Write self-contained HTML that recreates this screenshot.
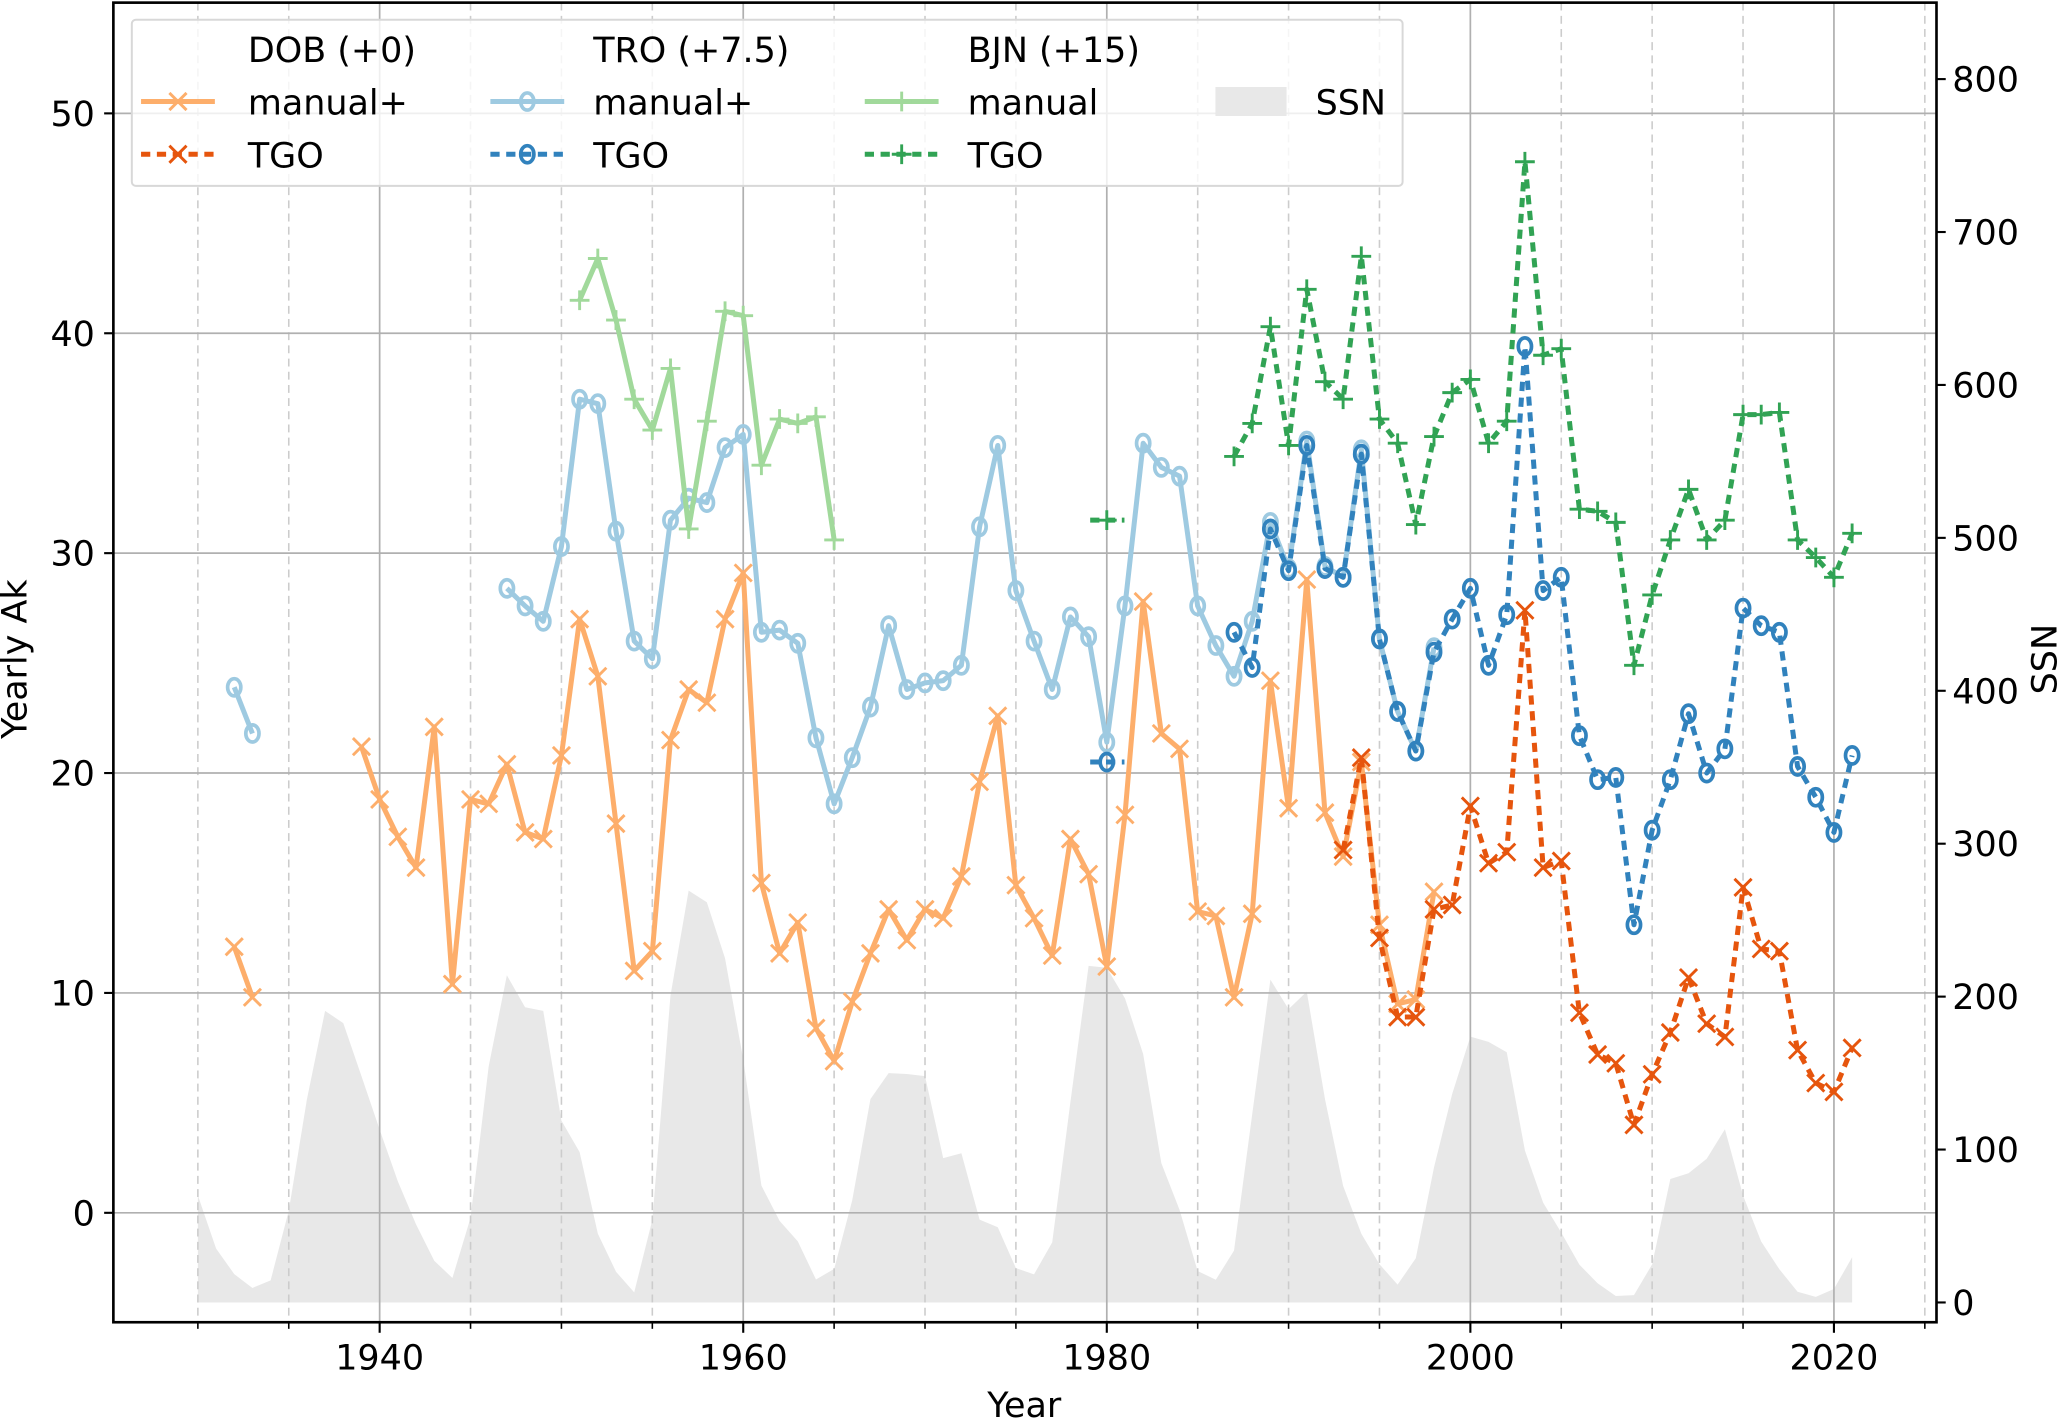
<!DOCTYPE html>
<html><head><meta charset="utf-8"><style>
html,body{margin:0;padding:0;background:#fff;}
svg{display:block;font-family:"DejaVu Sans","Liberation Sans",sans-serif;}
</style></head><body>
<svg id="s" width="2067" height="1419" viewBox="0 0 1568 1076.4" preserveAspectRatio="none" xmlns="http://www.w3.org/2000/svg"></svg>
<script>
var S=document.getElementById('s');
function X(y){return 288+(y-1940)*13.79;}
function Y(a){return 920-a*16.68;}
function YS(s){return 988-s*1.16;}
var h='';
var ssn=[70,35.3,18.5,9.5,14.5,60.2,132.8,190.7,182.7,148,113,79.2,51,27.2,16,55.3,154.3,214,193,190.7,118.9,98.3,45,20.1,6.6,54.2,200.7,269.3,261.7,225.1,159,76.4,53.4,39.9,15,22,66.8,132.9,150,149.4,148,94.4,97.6,54.1,49.2,22.5,18.4,39.3,131,220.1,218.9,198.9,162.4,91,60.5,20.6,14.8,33.9,123,211.1,191.8,203.3,133,76.1,44.9,25.1,11.6,28.9,88.3,136.3,173.9,170.4,163.6,99.3,65.3,45.8,24.7,12.6,4.2,4.8,24.9,80.8,84.5,94,113.3,69.8,39.8,21.7,7,3.6,8.8,29.6];
var p='M'+X(1930)+','+YS(0);
for(var i=0;i<ssn.length;i++)p+=' L'+X(1930+i).toFixed(1)+','+YS(ssn[i]).toFixed(1);
p+=' L'+X(2021)+','+YS(0)+'Z';
h+='<path d="'+p+'" fill="#e8e8e8"/>';
for(var yr=1930;yr<=2025;yr+=5){var x=X(yr);
 if(yr%20==0)h+='<line x1="'+x+'" y1="2" x2="'+x+'" y2="1003" stroke="#b0b0b0" stroke-width="1.3"/>';
 else h+='<line x1="'+x+'" y1="2" x2="'+x+'" y2="1003" stroke="#cccccc" stroke-width="1.2" stroke-dasharray="6,4"/>';}
for(var a=0;a<=50;a+=10)h+='<line x1="86" y1="'+Y(a)+'" x2="1469" y2="'+Y(a)+'" stroke="#b0b0b0" stroke-width="1.3"/>';
function marker(x,y,c,m){
 if(m=='x')return '<path d="M'+(x-6.5)+','+(y-6.5)+'L'+(x+6.5)+','+(y+6.5)+'M'+(x-6.5)+','+(y+6.5)+'L'+(x+6.5)+','+(y-6.5)+'" stroke="'+c+'" stroke-width="2.2"/>';
 if(m=='o')return '<ellipse cx="'+x+'" cy="'+y+'" rx="5" ry="6.5" fill="none" stroke="'+c+'" stroke-width="2.8"/>';
 return '<path d="M'+(x-7.5)+','+y+'L'+(x+7.5)+','+y+'M'+x+','+(y-7.5)+'L'+x+','+(y+7.5)+'" stroke="'+c+'" stroke-width="2.2"/>';}
function ser(start,vals,col,dash,mk){
 var segs=[],cur=[];
 for(var i=0;i<vals.length;i++){var v=vals[i];if(v===null){if(cur.length)segs.push(cur);cur=[];}else cur.push([X(start+i),Y(v)]);}
 if(cur.length)segs.push(cur);
 for(var k=0;k<segs.length;k++){var s=segs[k];
  if(s.length>1){var pts=s.map(function(q){return q[0].toFixed(1)+','+q[1].toFixed(1);}).join(' ');
   h+='<polyline points="'+pts+'" fill="none" stroke="'+col+'" stroke-width="3.8" stroke-linejoin="round" '+(dash?'stroke-dasharray="7,5"':'')+'/>';}
  for(var j=0;j<s.length;j++)h+=marker(s[j][0],s[j][1],col,mk);}}
var LO='#fdae6b',DO='#e6550d',LB='#9ecae1',DB='#3182bd',LG='#a1d99b',DG='#31a354';
var n=null;
ser(1932,[12.1,9.8,n,n,n,n,n,21.2,18.8,17.1,15.7,22.1,10.4,18.8,18.6,20.4,17.3,17.0,20.8,27.0,24.4,17.7,11.0,11.9,21.5,23.8,23.2,27.0,29.1,15.0,11.8,13.2,8.4,6.9,9.6,11.8,13.8,12.4,13.8,13.4,15.3,19.6,22.6,14.9,13.4,11.7,17.0,15.4,11.2,18.1,27.8,21.8,21.1,13.7,13.5,9.8,13.6,24.2,18.4,28.8,18.2,16.2,20.5,13.1,9.5,9.7,14.6],LO,false,'x');
ser(1932,[23.9,21.8,n,n,n,n,n,n,n,n,n,n,n,n,n,28.4,27.6,26.9,30.3,37.0,36.8,31.0,26.0,25.2,31.5,32.5,32.3,34.8,35.4,26.4,26.5,25.9,21.6,18.6,20.7,23.0,26.7,23.8,24.1,24.2,24.9,31.2,34.9,28.3,26.0,23.8,27.1,26.2,21.4,27.6,35.0,33.9,33.5,27.6,25.8,24.4,26.9,31.4,29.3,35.1,29.4,28.9,34.7,26.1,22.8,21.0,25.7],LB,false,'o');
ser(1951,[41.5,43.4,40.6,37.0,35.6,38.4,31.1,36.0,41.0,40.8,34.0,36.1,35.9,36.2,30.6],LG,false,'+');
ser(1993,[16.5,20.7,12.5,8.9,8.9,13.8,14.0,18.5,15.9,16.4,27.4,15.7,16.0,9.1,7.2,6.8,4.0,6.3,8.2,10.7,8.6,8.0,14.8,12.0,11.9,7.4,5.9,5.5,7.5],DO,true,'x');
ser(1987,[26.4,24.8,31.1,29.2,34.9,29.3,28.9,34.5,26.1,22.8,21.0,25.5,27.0,28.4,24.9,27.2,39.4,28.3,28.9,21.7,19.7,19.8,13.1,17.4,19.7,22.7,20.0,21.1,27.5,26.7,26.4,20.3,18.9,17.3,20.8],DB,true,'o');
ser(1987,[34.4,35.9,40.3,34.9,42.0,37.8,37.0,43.5,36.1,35.0,31.3,35.3,37.3,37.9,35.0,36.0,47.8,39.0,39.3,32.0,31.9,31.4,24.9,28.1,30.6,32.9,30.6,31.5,36.3,36.3,36.4,30.6,29.8,28.9,30.9],DG,true,'+');
h+='<line x1="827" y1="'+Y(20.5)+'" x2="853" y2="'+Y(20.5)+'" stroke="'+DB+'" stroke-width="3.8" stroke-dasharray="7,5"/>'+marker(X(1980),Y(20.5),DB,'o');
h+='<line x1="827" y1="'+Y(31.5)+'" x2="853" y2="'+Y(31.5)+'" stroke="'+DG+'" stroke-width="3.8" stroke-dasharray="7,5"/>'+marker(X(1980),Y(31.5),DG,'+');
h+='<rect x="100" y="15" width="964" height="126" rx="3" fill="#fff" fill-opacity="0.8" stroke="#d8d8d8" stroke-width="1.5"/>';
function T(x,y,t,a,fs){return '<text x="'+x+'" y="'+y+'" font-size="'+(fs||26.5)+'" text-anchor="'+(a||'start')+'">'+t+'</text>';}
h+=T(188,47,'DOB (+0)')+T(450,47,'TRO (+7.5)')+T(734,47,'BJN (+15)');
h+=T(188,87,'manual+')+T(450,87,'manual+')+T(734,87,'manual')+T(998,87,'SSN');
h+=T(188,127,'TGO')+T(450,127,'TGO')+T(734,127,'TGO');
function lg(x,y,c,d,m){h+='<line x1="'+x+'" y1="'+y+'" x2="'+(x+56)+'" y2="'+y+'" stroke="'+c+'" stroke-width="3.8" '+(d?'stroke-dasharray="7,5"':'')+'/>'+marker(x+28,y,c,m);}
lg(107,77,LO,false,'x');lg(107,117,DO,true,'x');
lg(372,77,LB,false,'o');lg(372,117,DB,true,'o');
lg(656,77,LG,false,'+');lg(656,117,DG,true,'+');
h+='<rect x="922" y="66" width="54" height="22" fill="#e8e8e8"/>';
h+='<rect x="86" y="2" width="1383" height="1001" fill="none" stroke="#000" stroke-width="2"/>';
for(var a=0;a<=50;a+=10){h+='<line x1="79" y1="'+Y(a)+'" x2="86" y2="'+Y(a)+'" stroke="#000" stroke-width="1.6"/>'+T(72,Y(a)+9.5,a,'end');}
for(var s=0;s<=800;s+=100){h+='<line x1="1469" y1="'+YS(s)+'" x2="1476" y2="'+YS(s)+'" stroke="#000" stroke-width="1.6"/>'+T(1481,YS(s)+9.5,s,'start');}
for(var yr=1930;yr<=2025;yr+=5){var x=X(yr);
 if(yr%20==0){h+='<line x1="'+x+'" y1="1003" x2="'+x+'" y2="1011" stroke="#000" stroke-width="1.6"/>'+T(x,1039,yr,'middle');}
 else h+='<line x1="'+x+'" y1="1003" x2="'+x+'" y2="1008" stroke="#000" stroke-width="1.2"/>';}
h+=T(777,1075,'Year','middle');
h+='<text x="20" y="500" font-size="26.5" text-anchor="middle" transform="rotate(-90 20 500)">Yearly Ak</text>';
h+='<text x="1560" y="500" font-size="26.5" text-anchor="middle" transform="rotate(-90 1560 500)">SSN</text>';
S.innerHTML=h;
</script>
</body></html>
